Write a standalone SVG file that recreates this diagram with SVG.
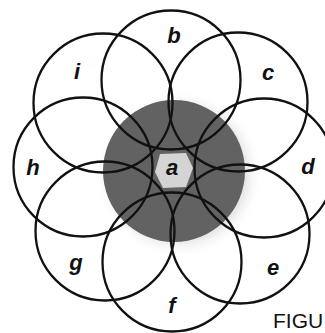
<svg xmlns="http://www.w3.org/2000/svg" width="325" height="333" viewBox="0 0 325 333">
<defs>
<radialGradient id="halo" cx="0.5" cy="0.5" r="0.5">
<stop offset="0.78" stop-color="#c4c4c4" stop-opacity="0.45"/>
<stop offset="1" stop-color="#ffffff" stop-opacity="0"/>
</radialGradient>
</defs>
<style>
.ring{fill:none;stroke:#111;stroke-width:2.3}
.lbl{font-family:"Liberation Sans",Arial,sans-serif;font-size:22px;font-weight:bold;font-style:italic;fill:#111;text-anchor:middle}
.cap{font-family:"Liberation Sans",Arial,sans-serif;font-size:21px;fill:#111}
</style>
<rect width="325" height="333" fill="#fff"/>
<g id="node-a">
<circle cx="179" cy="174" r="84" fill="url(#halo)"/>
<circle cx="174" cy="171" r="71" fill="#626262"/>
</g>
<g id="node-b"><circle class="ring" cx="171" cy="80" r="69.5"/><text class="lbl" x="174" y="43">b</text></g>
<g id="node-c"><circle class="ring" cx="238" cy="102" r="69.5"/><text class="lbl" x="268" y="80">c</text></g>
<g id="node-d"><circle class="ring" cx="264" cy="168" r="69.5"/><text class="lbl" x="308" y="174">d</text></g>
<g id="node-e"><circle class="ring" cx="240" cy="234" r="69.5"/><text class="lbl" x="273" y="275">e</text></g>
<g id="node-f"><circle class="ring" cx="172" cy="262" r="69.5"/><text class="lbl" x="172" y="313">f</text></g>
<g id="node-g"><circle class="ring" cx="105" cy="231" r="69.5"/><text class="lbl" x="76" y="270">g</text></g>
<g id="node-h"><circle class="ring" cx="83" cy="167" r="69.5"/><text class="lbl" x="33" y="175">h</text></g>
<g id="node-i"><circle class="ring" cx="103" cy="103" r="69.5"/><text class="lbl" x="77" y="79">i</text></g>
<g id="node-a-center">
<polygon points="160,154 186,153 193,168 186,187 163,188 155,172" fill="#d4d4d4"/>
<text class="lbl" x="172" y="175">a</text>
</g>
<text class="cap" x="273" y="328">FIGU</text>
</svg>
